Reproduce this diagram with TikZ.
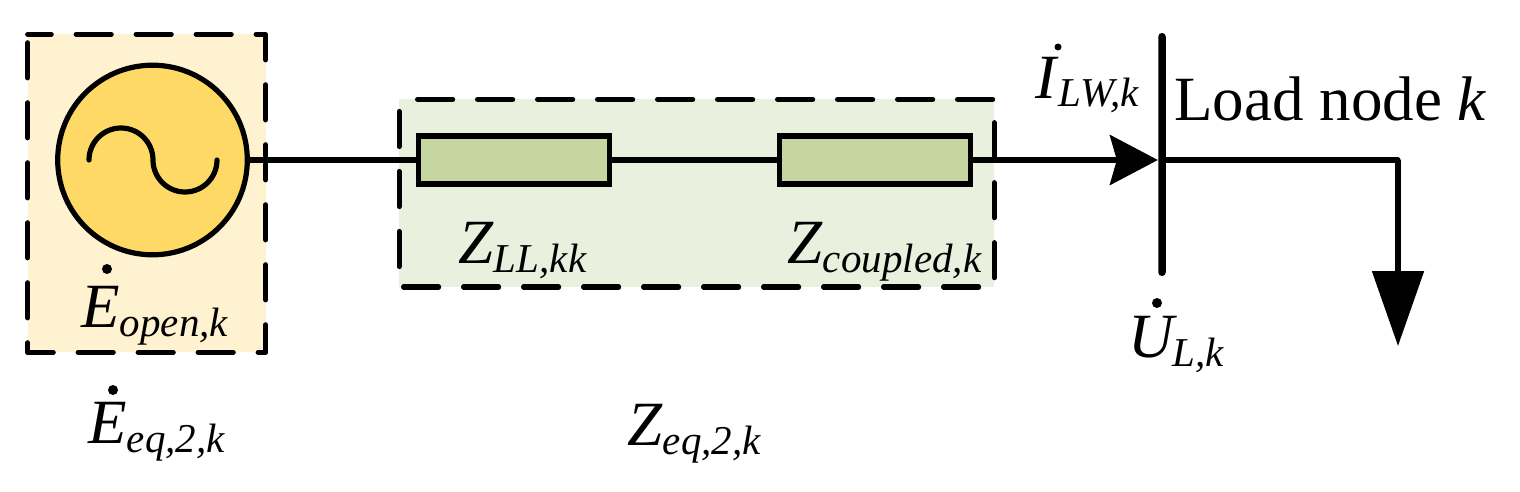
\documentclass[tikz,border=0pt]{standalone}
\usepackage{fontspec}
\setmainfont{Liberation Serif}
\usetikzlibrary{positioning,calc}
\usetikzlibrary{arrows.meta}
\definecolor{srcfill}{RGB}{255,242,208}
\definecolor{srcyellow}{RGB}{255,217,102}
\definecolor{zonefill}{RGB}{233,240,222}
\definecolor{zfill}{RGB}{197,214,160}
\newcommand{\subtxt}[1]{\raisebox{-4.5pt}{\fontsize{20.5}{20.5}\selectfont\textit{#1}}}
\tikzset{
  zonebox/.style={rectangle, inner sep=0pt, outer sep=0pt},
  zoneline/.style={draw=black, line width=2.6pt, line cap=round, line join=round, dash pattern=on 17.5pt off 12.5pt},
  imp/.style={rectangle, draw=black, fill=zfill, line width=2.6pt, minimum width=95.5pt, minimum height=24pt, inner sep=0pt},
  txt/.style={anchor=base west, inner sep=0pt, font=\fontsize{31.5}{36}\selectfont},
  dotmark/.style={circle, fill=black, minimum size=5pt, inner sep=0pt},
  wire/.style={draw=black, line width=2.6pt}
}
\begin{document}
\begin{tikzpicture}[x=0.5pt,y=-0.5pt]
	\useasboundingbox (0,0) rectangle (1520,492);
	\node[zonebox, fill=srcfill, minimum width=119pt, minimum height=159pt] (srcbox) at (146.7,193.3) {};
	\node[zonebox, fill=zonefill, minimum width=297.6pt, minimum height=93.8pt] (zone) at (696.7,193.2) {};
	%
	\node[circle, draw=black, fill=srcyellow, line width=2.6pt, minimum size=94.8pt, inner sep=0pt] (src) at (152.5,160) {};
	\node[imp] (zll) at (513.7,160) {};
	\node[imp] (zcoupled) at (875,160) {};
	\node[rectangle, fill=black, rounded corners=1.8pt, minimum width=3.75pt, minimum height=121.5pt, inner sep=0pt] (bus) at (1162,154.5) {};
	\coordinate (drop) at (1398,160);
	\coordinate (loadend) at (1398,346);
	%
	\draw[wire] (src) -- (zll);
	\draw[wire] (zll) -- (zcoupled);
	\draw[wire, -{Stealth[length=24pt,width=25pt,inset=3.5pt]}] (zcoupled) -- (zcoupled -| bus.west);
	\draw[wire, line cap=round] (zcoupled -| bus.east) -- (drop);
	\draw[wire, -{Triangle[length=37.5pt,width=25.5pt]}] (drop) -- (loadend);
	\draw[wire, line cap=round] (89,160) arc (180:360:32) arc (180:0:32);
	%
	\draw[zoneline, dash phase=5.75pt] (srcbox.north west) -- (srcbox.north east) -- (srcbox.south east) -- (srcbox.south west) -- cycle;
	\draw[zoneline, dash phase=20.75pt] (zone.north west) -- (zone.north east) -- (zone.south east) -- (zone.south west) -- cycle;
	%
	\node[txt] (eopen) at (81,327) {\textit{E}\subtxt{open,k}};
	\node[dotmark] (eopendot) at (107,269) {};
	\node[txt] (zlltxt) at (458,263) {\textit{Z}\subtxt{LL,kk}};
	\node[txt] (zcoupledtxt) at (787,263) {\textit{Z}\subtxt{coupled,k}};
	\node[txt] (ilw) at (1035,98) {\textit{I}\subtxt{LW,k}};
	\node[dotmark, minimum size=3.5pt] (ilwdot) at (1058,47) {};
	\node[txt] (load) at (1174,120) {Load node \textit{k}};
	\node[txt] (ul) at (1128,357) {\textit{U}\hspace{-2.5pt}\subtxt{L,k}};
	\node[dotmark] (uldot) at (1157,303) {};
	\node[txt] (eeq) at (88,443) {\textit{E}\subtxt{eq,2,k}};
	\node[dotmark] (eeqdot) at (113,390) {};
	\node[txt] (zeq) at (627,445) {\textit{Z}\subtxt{eq,2,k}};
\end{tikzpicture}
\end{document}
